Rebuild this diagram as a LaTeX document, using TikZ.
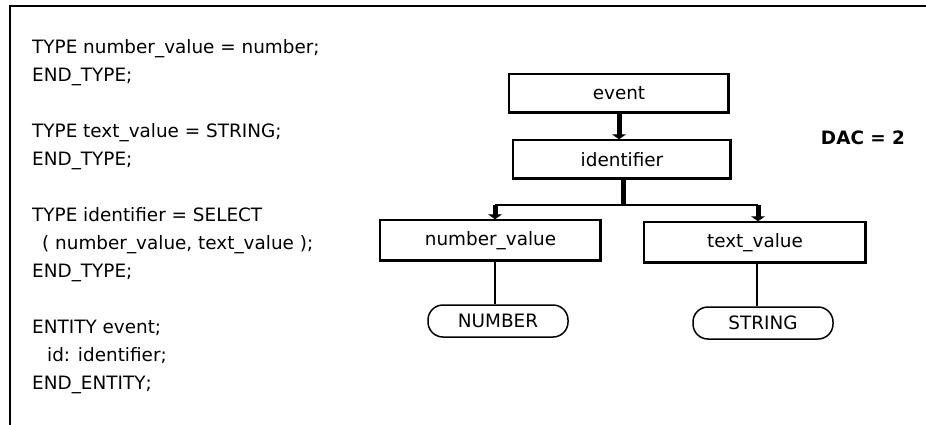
\documentclass[tikz,border=0pt]{standalone}
\usepackage{fontspec}
\setmainfont{DejaVu Sans}
\usetikzlibrary{arrows.meta}
\tikzset{
  code/.style={anchor=base west, inner sep=0pt, font=\fontsize{18.4}{22}\selectfont},
  boxnode/.style={draw, line width=1.5pt, minimum width=220pt, minimum height=39pt, inner sep=0pt, font=\fontsize{18.4}{22}\selectfont},
  ovalnode/.style={draw, line width=1.5pt, rounded corners=15pt, minimum width=140pt, minimum height=32pt, inner sep=0pt, font=\fontsize{18.4}{22}\selectfont},
  bigarrow/.style={line width=5pt, -{Triangle[width=14pt,length=5pt]}},
  thinline/.style={line width=1.8pt},
  shadowline/.style={line width=3.5pt}
}
\newcommand{\shadowbox}[1]{%
  \draw[shadowline] ([xshift=-1.2pt]#1.north east) -- ([xshift=-1.2pt,yshift=1.2pt]#1.south east) -- ([yshift=1.2pt]#1.south west);}
\begin{document}
\begin{tikzpicture}[x=1pt,y=-1pt]
\useasboundingbox (0,0) rectangle (926,424);
% frame
\draw[line width=2pt] (10,425) -- (10,6) -- (927,6);

% code text
\node[code] (l1) at (32,53) {TYPE number\_value = number;};
\node[code] (l2) at (32,81) {END\_TYPE;};
\node[code] (l3) at (32,137) {TYPE text\_value = STRING;};
\node[code] (l4) at (32,165) {END\_TYPE;};
\node[code] (l5) at (32,221) {TYPE identifier = SELECT};
\node[code] (l6) at (42,249) {( number\_value, text\_value );};
\node[code] (l7) at (32,277) {END\_TYPE;};
\node[code] (l8) at (32,333) {ENTITY event;};
\node[code] (l9) at (47,361) {id: identifier;};
\node[code] (l10) at (32,389) {END\_ENTITY;};

% DAC
\node[font=\fontsize{18.4}{22}\selectfont\bfseries, inner sep=0pt] (dac) at (863,138) {DAC = 2};

% boxes
\node[boxnode] (event) at (619,93.5) {event};
\node[boxnode, minimum width=218pt] (identifier) at (622,159.5) {identifier};
\node[boxnode, minimum width=221pt, minimum height=41pt] (numv) at (490.5,240.5) {number\_value};
\node[boxnode, minimum width=222pt, minimum height=41pt] (textv) at (755,242.5) {text\_value};
\shadowbox{event}
\shadowbox{identifier}
\shadowbox{numv}
\shadowbox{textv}

% ovals
\node[ovalnode] (num) at (498,321) {NUMBER};
\node[ovalnode] (str) at (763,323) {STRING};

% connectors
\coordinate (ea) at (619,113);
\coordinate (ib) at (623,179);
\coordinate (j) at (623,205);
\coordinate (bl) at (495,205);
\coordinate (br) at (758,205);
\draw[bigarrow] (ea) -- (ea |- identifier.north);
\draw[line width=5pt] (ib) -- (j);
\draw[thinline] (bl) -- (br);
\draw[bigarrow] (bl) -- (bl |- numv.north);
\draw[bigarrow] (br) -- (br |- textv.north);
\coordinate (nl) at (495,261);
\coordinate (tl) at (757,263);
\draw[thinline] (nl) -- (nl |- num.north);
\draw[thinline] (tl) -- (tl |- str.north);
\end{tikzpicture}
\end{document}
